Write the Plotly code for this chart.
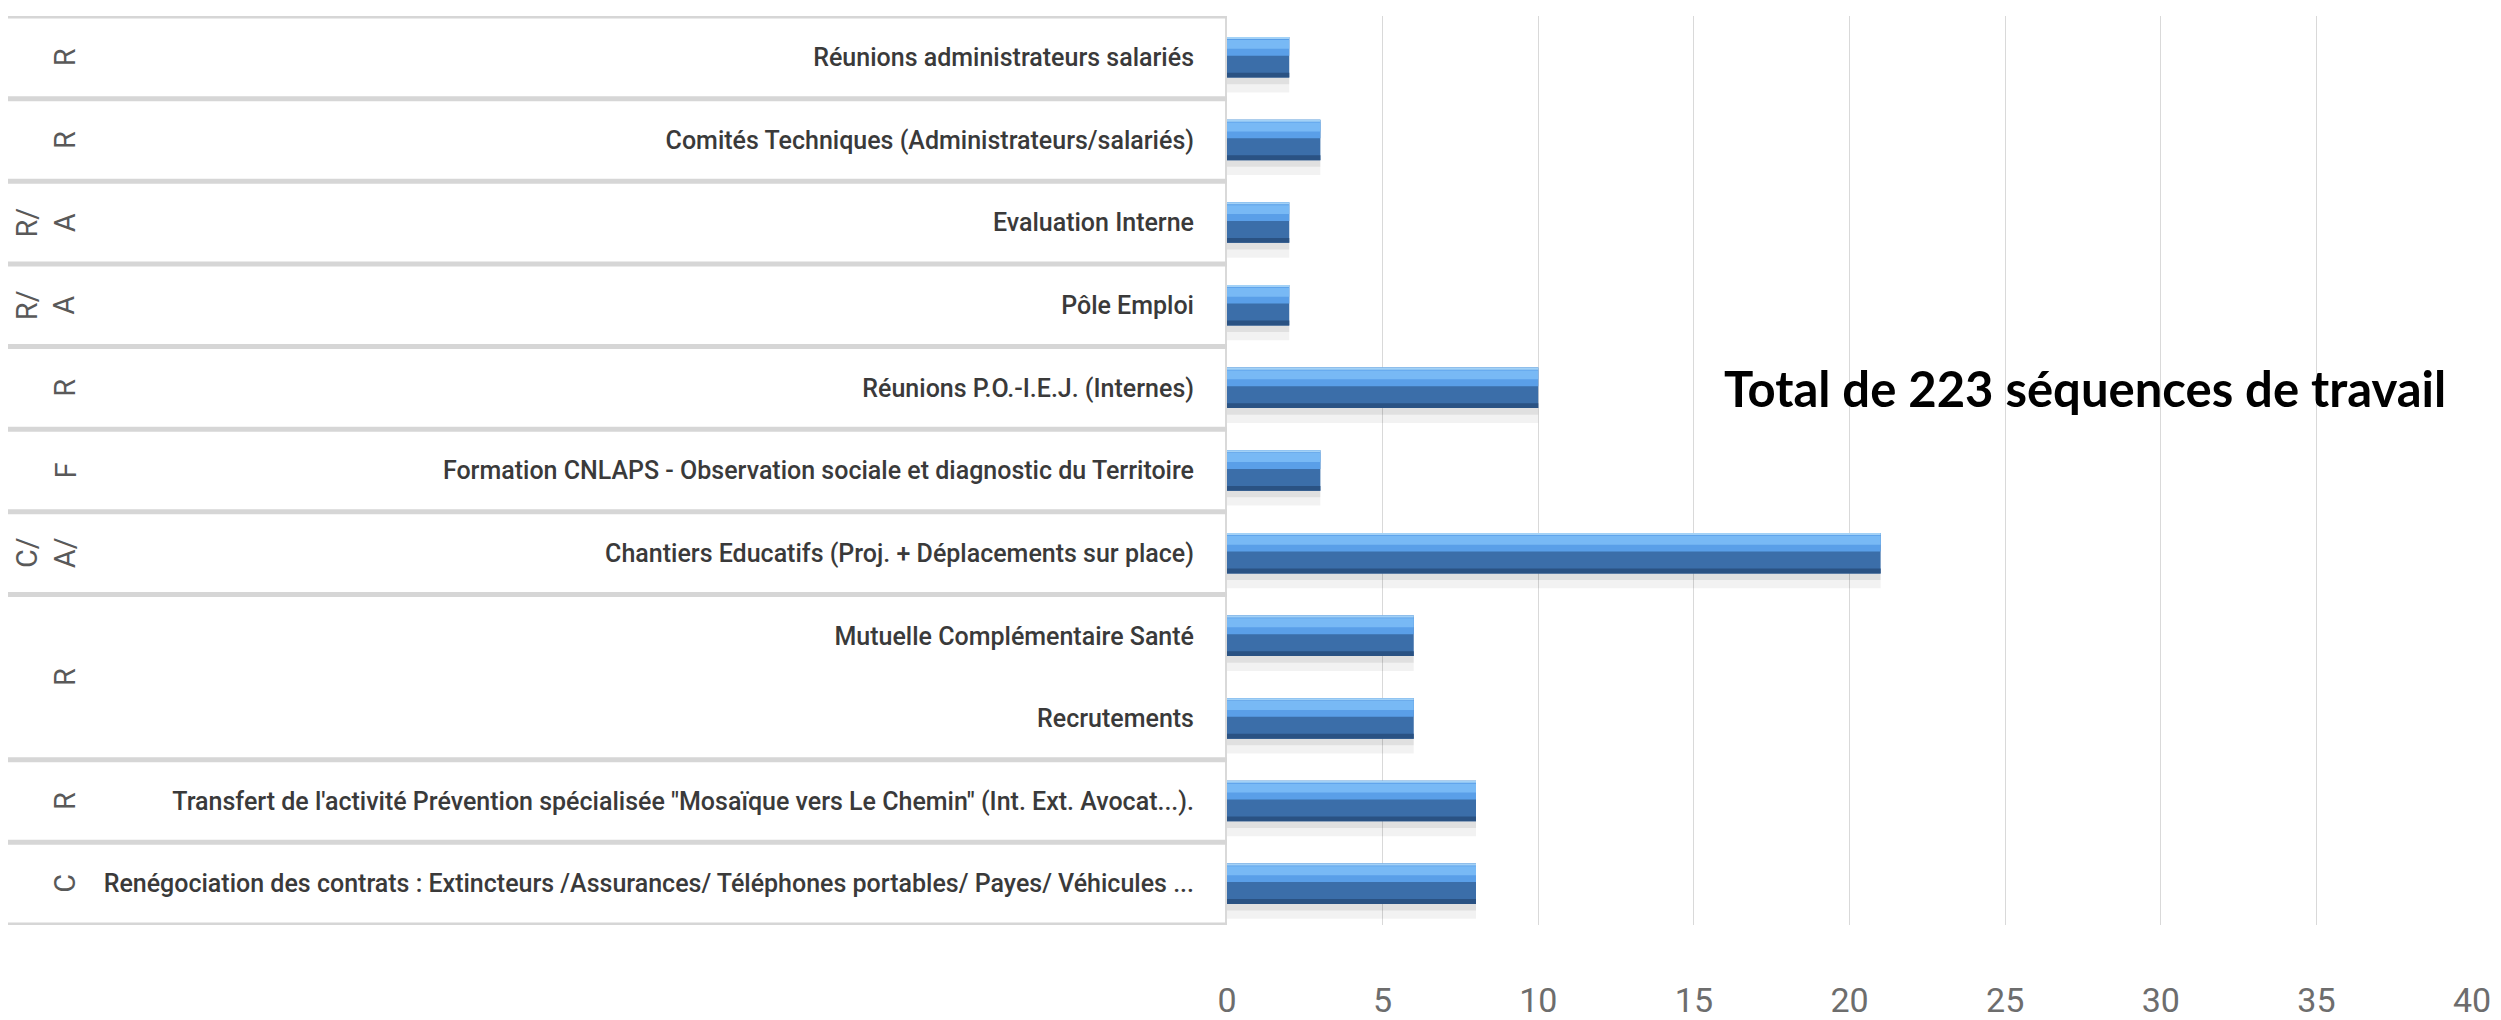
import plotly.graph_objects as go

# ---- data ----
items = [
    "Réunions administrateurs salariés",
    "Comités Techniques (Administrateurs/salariés)",
    "Evaluation Interne",
    "Pôle Emploi",
    "Réunions P.O.-I.E.J. (Internes)",
    "Formation CNLAPS - Observation sociale et diagnostic du Territoire",
    "Chantiers Educatifs (Proj. + Déplacements sur place)",
    "Mutuelle Complémentaire Santé",
    "Recrutements",
    "Transfert de l'activité Prévention spécialisée \"Mosaïque vers Le Chemin\" (Int. Ext. Avocat...).",
    "Renégociation des contrats : Extincteurs /Assurances/ Téléphones portables/ Payes/ Véhicules ...",
]
values = [2, 3, 2, 2, 10, 3, 21, 6, 6, 8, 8]
group_labels = ["R", "R", "R/<br>A", "R/<br>A", "R", "F", "C/<br>A/", "R", "R", "C"]
group_sizes = [1, 1, 1, 1, 1, 1, 1, 2, 1, 1]
x_ticks = [0, 5, 10, 15, 20, 25, 30, 35, 40]
total_text = "Total de 223 séquences de travail"

# page body has an 8px default margin: figure coordinates = page coordinates - 8
OFF = 8
W, H = 2501 - OFF, 1020 - OFF
ML = 1227 - OFF
MT = 16 - OFF
MR = 2501 - 2472
MB = 1020 - 925
PW = W - ML - MR
N = len(items)


def px_to_paper(page_x):
    return (page_x - OFF - ML) / PW


FONT = "Roboto, Liberation Sans, sans-serif"

fig = go.Figure()

BW = 0.49
half = BW / 2
# shadow layers
fig.add_trace(go.Bar(y=items, x=values, orientation="h", width=0.2, offset=half - 0.02,
                     marker=dict(color="rgba(0,0,0,0.05)", line=dict(width=0)), hoverinfo="skip"))
fig.add_trace(go.Bar(y=items, x=values, orientation="h", width=0.1, offset=half - 0.02,
                     marker=dict(color="rgba(0,0,0,0.07)", line=dict(width=0)), hoverinfo="skip"))
# base bar
fig.add_trace(go.Bar(y=items, x=values, orientation="h", width=BW, offset=-half,
                     marker=dict(color="#3b6ea9", line=dict(width=0)), name="base"))
# top highlight
fig.add_trace(go.Bar(y=items, x=values, orientation="h", width=BW * 0.46, offset=-half,
                     marker=dict(color="#5a9fe8", line=dict(width=0)), hoverinfo="skip"))
fig.add_trace(go.Bar(y=items, x=values, orientation="h", width=BW * 0.22, offset=-half + BW * 0.07,
                     marker=dict(color="#78b9f5", line=dict(width=0)), hoverinfo="skip"))
fig.add_trace(go.Bar(y=items, x=values, orientation="h", width=BW * 0.05, offset=-half,
                     marker=dict(color="#a3d2f7", line=dict(width=0)), hoverinfo="skip"))
# bottom dark edge
fig.add_trace(go.Bar(y=items, x=values, orientation="h", width=BW * 0.12, offset=half - BW * 0.12,
                     marker=dict(color="#2a5283", line=dict(width=0)), hoverinfo="skip"))

# separators between groups
sep_x0 = px_to_paper(OFF)
bounds = [-0.5]
pos = -0.5
for s in group_sizes:
    pos += s
    bounds.append(pos)
for b in bounds:
    fig.add_shape(type="line", xref="paper", yref="y", x0=sep_x0, x1=0, y0=b, y1=b,
                  line=dict(color="#d6d6d6", width=5), layer="above")

# group labels (rotated)
start = -0.5
for g, s in zip(group_labels, group_sizes):
    center = start + s / 2
    start += s
    fig.add_annotation(text=g, xref="paper", yref="y", x=px_to_paper(84), y=center,
                       xanchor="right", yanchor="middle", textangle=-90, showarrow=False,
                       font=dict(family=FONT, size=29, color="#595959"))

fig.add_annotation(text="<b>" + total_text + "</b>", xref="paper", yref="y",
                   x=px_to_paper(2085), y=items[4], xanchor="center", yanchor="middle",
                   showarrow=False, font=dict(family="Lato, Open Sans, sans-serif", size=49, color="#000000"))

fig.update_layout(
    width=W, height=H, barmode="overlay", showlegend=False,
    plot_bgcolor="white", paper_bgcolor="white",
    margin=dict(l=ML, r=MR, t=MT, b=MB, autoexpand=False),
    xaxis=dict(range=[0, 40], tickvals=x_ticks, showgrid=True, gridcolor="#d9d9d9", gridwidth=1,
               zeroline=False, showline=False, ticks="", ticklabelstandoff=52,
               tickfont=dict(family=FONT, size=34, color="#6d6d6d"), fixedrange=True),
    yaxis=dict(range=[N - 0.5, -0.5], type="category", showgrid=False, showline=True,
               linecolor="#d9d9d9", linewidth=2, ticks="", ticklabelstandoff=26,
               tickfont=dict(family=FONT, size=25, color="#3a3a3a", weight=500), automargin=False,
               fixedrange=True),
)

fig.write_html("out.html")
